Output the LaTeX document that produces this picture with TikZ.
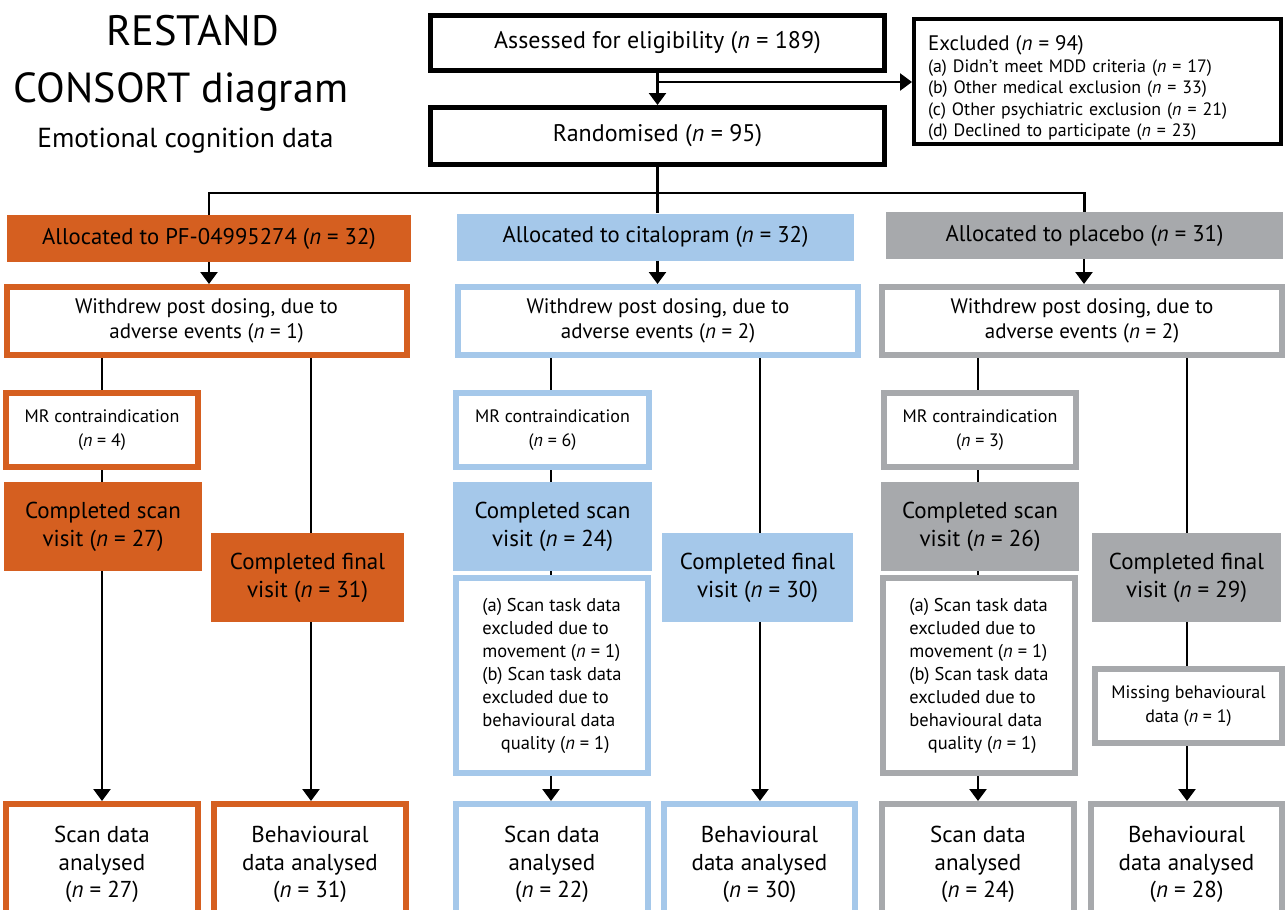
\documentclass[tikz,border=0pt]{standalone}
\usepackage{fontspec}
\setmainfont{PT Sans}
\usetikzlibrary{arrows.meta,positioning}
\definecolor{pfor}{HTML}{D55F20}
\definecolor{cita}{HTML}{A5C8EA}
\definecolor{plac}{HTML}{A7A9AC}
\newcommand{\nn}[1]{(\textit{n} = #1)}

\begin{document}
\begin{tikzpicture}[x=1pt, y=-1pt, every node/.style={inner sep=0pt},
  hdr/.style={draw, line width=5pt, fill=white, minimum width=454pt, font=\fontsize{24}{28}\selectfont},
  alloc/.style={fill=#1, minimum height=47pt, font=\fontsize{22.7}{26}\selectfont},
  wbox/.style={draw=#1, line width=6pt, fill=white, align=center},
  wd/.style={wbox=#1, minimum width=400pt, minimum height=68pt, font=\fontsize{21}{25}\selectfont},
  mr/.style={wbox=#1, minimum width=192pt, minimum height=74pt, font=\fontsize{18}{24}\selectfont},
  done/.style={fill=#1, minimum height=89pt, align=center, font=\fontsize{23}{28}\selectfont},
  exq/.style={wbox=#1, minimum width=192pt, minimum height=195pt, align=left, font=\fontsize{18.5}{23}\selectfont},
  res/.style={wbox=#1, minimum width=192pt, minimum height=121pt, font=\fontsize{23}{27.5}\selectfont},
  conn/.style={line width=2.5pt},
  arr/.style={conn, -{Triangle[length=12pt, width=17pt]}}]
  \useasboundingbox (0,0) rectangle (1285,910);

  % title
  \node[anchor=base, font=\fontsize{42.5}{44}\selectfont] (ttl1) at (192.5,45) {RESTAND};
  \node[anchor=base, font=\fontsize{42}{46}\selectfont] (ttl2) at (181,102) {CONSORT diagram};
  \node[anchor=base, font=\fontsize{27.5}{30}\selectfont] (ttl3) at (185.5,147) {Emotional cognition data};

  % enrolment
  \node[hdr, minimum height=55pt] (assess) at (657.5,43) {Assessed for eligibility \nn{189}};
  \node[hdr, minimum height=57pt] (rand) at (657.5,136) {Randomised \nn{95}};
  \node[draw, line width=4pt, minimum width=367pt, minimum height=125pt, text width=339pt,
    align=left, font=\fontsize{17.9}{21.5}\selectfont] (excl) at (1097.5,81.5)
    {{\fontsize{21}{21.5}\selectfont\rule{0pt}{28pt}Excluded \nn{94}}\\
     (a) Didn’t meet MDD criteria \nn{17}\\
     (b) Other medical exclusion \nn{33}\\
     (c) Other psychiatric exclusion \nn{21}\\
     (d) Declined to participate \nn{23}};
  \coordinate (exarm) at (657.5,82);
  \coordinate (br) at (657.5,193);

  % allocation
  \node[alloc=pfor, minimum width=404pt] (allocA) at (209,238.5) {Allocated to PF-04995274 \nn{32}};
  \node[alloc=cita, minimum width=397pt] (allocB) at (655.5,237) {Allocated to citalopram \nn{32}};
  \node[alloc=plac, minimum width=397pt] (allocC) at (1084.5,235.5) {Allocated to placebo \nn{31}};

  \node[wd=pfor] (wdA) at (206.5,321) {Withdrew post dosing, due to\\adverse events \nn{1}};
  \node[wd=cita] (wdB) at (658,321) {Withdrew post dosing, due to\\adverse events \nn{2}};
  \node[wd=plac] (wdC) at (1082,321) {Withdrew post dosing, due to\\adverse events \nn{2}};

  % PF-04995274
  \node[mr=pfor] (mrA) at (102,430) {MR contraindication\\\nn{4}};
  \node[done=pfor, minimum width=198pt] (scA) at (103,526.5) {Completed scan\\visit \nn{27}};
  \node[done=pfor, minimum width=193pt] (fnA) at (307.5,577.5) {Completed final\\visit \nn{31}};
  \node[res=pfor] (anA) at (102,864.5) {Scan data\\analysed\\\nn{27}};
  \node[res=pfor] (bhA) at (310,864.5) {Behavioural\\data analysed\\\nn{31}};

  % citalopram
  \node[mr=cita, minimum width=193pt] (mrB) at (552.5,430) {MR contraindication\\\nn{6}};
  \node[done=cita, minimum width=199pt] (scB) at (552.5,526.5) {Completed scan\\visit \nn{24}};
  \node[exq=cita] (exB) at (552,675.5) {(a) Scan task data\\excluded due to\\movement \nn{1}\\(b) Scan task data\\excluded due to\\behavioural data\\\hspace*{1em}quality \nn{1}};
  \node[res=cita] (anB) at (552,864.5) {Scan data\\analysed\\\nn{22}};
  \node[done=cita, minimum width=191pt] (fnB) at (757.5,577.5) {Completed final\\visit \nn{30}};
  \node[res=cita, minimum width=191pt] (bhB) at (759.5,864.5) {Behavioural\\data analysed\\\nn{30}};

  % placebo
  \node[mr=plac] (mrC) at (980,430) {MR contraindication\\\nn{3}};
  \node[done=plac, minimum width=198pt] (scC) at (980,526.5) {Completed scan\\visit \nn{26}};
  \node[exq=plac] (exC) at (979,675.5) {(a) Scan task data\\excluded due to\\movement \nn{1}\\(b) Scan task data\\excluded due to\\behavioural data\\\hspace*{1em}quality \nn{1}};
  \node[res=plac] (anC) at (978,864.5) {Scan data\\analysed\\\nn{24}};
  \node[done=plac, minimum width=189pt] (fnC) at (1186.5,577.5) {Completed final\\visit \nn{29}};
  \node[mr=plac, minimum width=187pt] (msC) at (1188.5,706) {Missing behavioural\\data \nn{1}};
  \node[res=plac, minimum width=191pt] (bhC) at (1186.5,864.5) {Behavioural\\data analysed\\\nn{28}};

  % connectors
  \draw[arr] (assess) -- (rand);
  \draw[arr] (exarm) -- (exarm -| excl.west);
  \draw[conn] (rand) -- (br);
  \draw[conn] (allocA.north) |- (br) -| (allocC.north);
  \draw[conn] (br) -- (br |- allocB.north);
  \draw[arr] (allocA) -- (allocA |- wdA.north);
  \draw[arr] (br |- allocB.south) -- (br |- wdB.north);
  \draw[arr] (allocC.south -| 1084,0) -- (wdC.north -| 1084,0);

  \draw[conn] (wdA.south -| mrA) -- (mrA.north);
  \draw[conn] (mrA.south) -- (mrA.south |- scA.north);
  \draw[arr] (scA.south -| anA) -- (anA.north);
  \draw[conn] (wdA.south -| 311,0) -- (fnA.north -| 311,0);
  \draw[arr] (fnA.south -| 311,0) -- (bhA.north -| 311,0);

  \draw[conn] (wdB.south -| 551,0) -- (mrB.north -| 551,0);
  \draw[conn] (mrB.south -| 551,0) -- (scB.north -| 551,0);
  \draw[conn] (scB.south -| 551,0) -- (exB.north -| 551,0);
  \draw[arr] (exB.south -| 551,0) -- (anB.north -| 551,0);
  \draw[conn] (wdB.south -| 760,0) -- (fnB.north -| 760,0);
  \draw[arr] (fnB.south -| 760,0) -- (bhB.north -| 760,0);

  \draw[conn] (wdC.south -| 978,0) -- (mrC.north -| 978,0);
  \draw[conn] (mrC.south -| 978,0) -- (scC.north -| 978,0);
  \draw[conn] (scC.south -| 978,0) -- (exC.north -| 978,0);
  \draw[arr] (exC.south -| 978,0) -- (anC.north -| 978,0);
  \draw[conn] (wdC.south -| 1187,0) -- (fnC.north -| 1187,0);
  \draw[conn] (fnC.south -| 1187,0) -- (msC.north -| 1187,0);
  \draw[arr] (msC.south -| 1187,0) -- (bhC.north -| 1187,0);
\end{tikzpicture}
\end{document}
